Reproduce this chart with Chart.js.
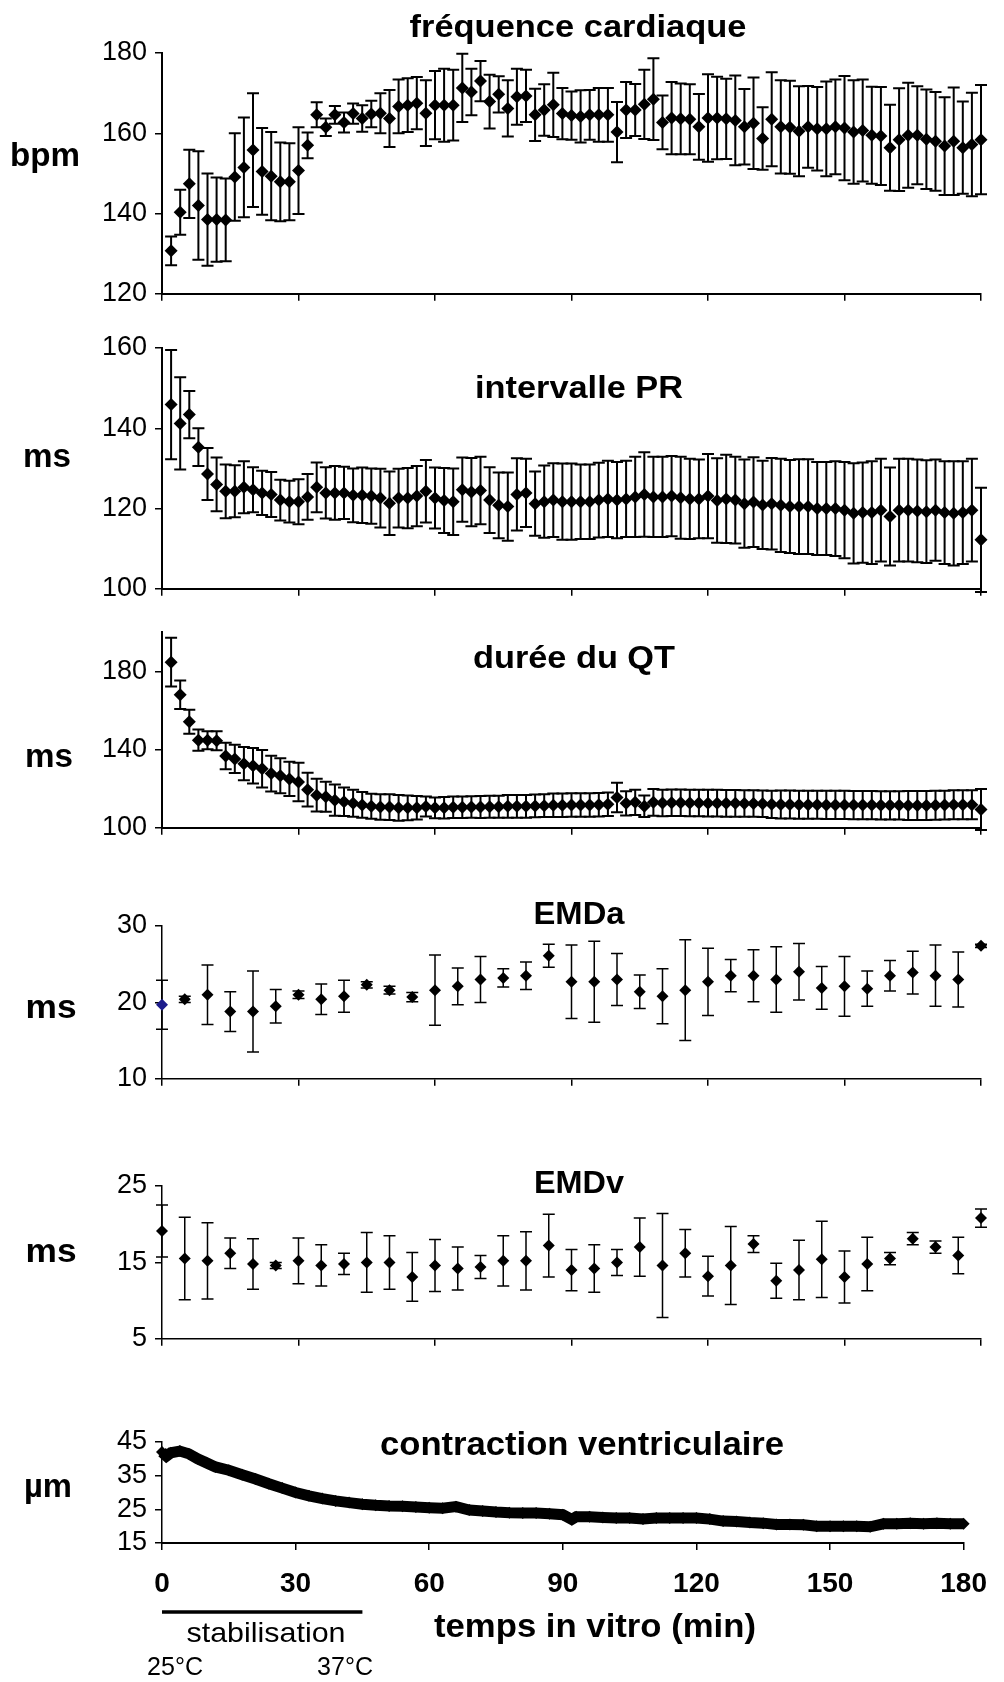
<!DOCTYPE html>
<html lang="fr">
<head>
<meta charset="utf-8">
<title>Paramètres cardiaques in vitro</title>
<script src="https://cdn.jsdelivr.net/npm/chart.js@4.4.1/dist/chart.umd.min.js"></script>
<style>
  html, body { margin: 0; padding: 0; background: #fff; }
  #page { position: relative; width: 1004px; height: 1682px; overflow: hidden; background: #fff; }
  #page canvas { position: absolute; left: 0; }
</style>
</head>
<body>
<div id="page">
  <canvas id="hrChart"></canvas>
  <canvas id="prChart"></canvas>
  <canvas id="qtChart"></canvas>
  <canvas id="emdaChart"></canvas>
  <canvas id="emdvChart"></canvas>
  <canvas id="contrChart"></canvas>
</div>
<script>
// temps (min) des mesures ECG toutes les 2 min
const timeEcg = [2, 4, 6, 8, 10, 12, 14, 16, 18, 20, 22, 24, 26, 28, 30, 32, 34, 36, 38, 40,
  42, 44, 46, 48, 50, 52, 54, 56, 58, 60, 62, 64, 66, 68, 70, 72, 74, 76, 78, 80,
  82, 84, 86, 88, 90, 92, 94, 96, 98, 100, 102, 104, 106, 108, 110, 112, 114, 116, 118, 120,
  122, 124, 126, 128, 130, 132, 134, 136, 138, 140, 142, 144, 146, 148, 150, 152, 154, 156, 158, 160,
  162, 164, 166, 168, 170, 172, 174, 176, 178, 180];

// fréquence cardiaque (bpm) : moyenne et écart
const hrMean = [130.7, 140.3, 147.4, 142.0, 138.5, 138.5, 138.4, 149.1, 151.5, 155.8,
  150.5, 149.3, 147.9, 147.9, 150.7, 157.0, 164.6, 161.5, 164.6, 162.7,
  164.9, 163.7, 164.8, 165.0, 163.7, 166.7, 167.0, 167.5, 165.0, 167.0,
  167.0, 167.0, 171.3, 170.3, 173.0, 167.9, 169.7, 166.2, 169.1, 169.3,
  164.6, 165.8, 167.1, 164.9, 164.4, 164.2, 164.6, 164.6, 164.6, 160.3,
  165.8, 165.8, 167.2, 168.5, 162.7, 163.8, 163.6, 163.5, 161.6, 163.8,
  163.8, 163.6, 163.2, 161.6, 162.5, 158.7, 163.5, 161.6, 161.5, 160.5,
  161.6, 161.1, 161.1, 161.6, 161.3, 160.3, 160.7, 159.5, 159.3, 156.4,
  158.4, 159.5, 159.5, 158.5, 158.0, 156.8, 158.0, 156.4, 157.2, 158.4];
const hrErr = [3.6, 5.6, 8.5, 13.5, 11.5, 10.5, 10.3, 10.9, 12.4, 14.2,
  10.8, 11, 9.8, 9.6, 10.8, 3.2, 3.1, 2.2, 2.2, 2.5,
  2.5, 3.3, 3.3, 5, 7.1, 6.7, 6.7, 6.5, 8.2, 8.5,
  9.1, 8.8, 8.5, 5.8, 5, 6.7, 4.5, 7, 7, 6.5,
  6.5, 6.4, 8, 6.4, 6, 6.5, 6.2, 6.7, 6.7, 7.5,
  7, 6.5, 8.6, 10.2, 6.7, 9, 8.8, 8.7, 8.2, 10.9,
  10.3, 10, 11.2, 9.4, 11.4, 7.8, 11.7, 11.6, 11.6, 11.2,
  10.2, 10.4, 11.8, 11.8, 13, 12.9, 12.7, 12.1, 12.2, 10.7,
  12.8, 13.1, 12.2, 12.4, 12.3, 12.2, 13.4, 11.5, 12.9, 13.6];

// intervalle PR (ms)
const prMean = [145.9, 141.2, 143.4, 135.3, 128.6, 126.0, 124.3, 124.3, 125.3, 124.7,
  123.9, 123.5, 122.1, 121.7, 121.7, 122.9, 125.3, 123.9, 123.9, 123.9,
  123.3, 123.3, 123.1, 122.6, 121.3, 122.6, 122.6, 123.1, 124.3, 122.6,
  122.0, 121.7, 124.7, 124.1, 124.5, 122.1, 120.8, 120.5, 123.5, 123.9,
  121.2, 121.7, 122.1, 121.7, 121.7, 121.7, 121.7, 122.1, 122.4, 122.1,
  122.4, 122.9, 123.5, 122.9, 122.9, 123.1, 122.7, 122.4, 122.4, 123.1,
  122.0, 122.4, 122.1, 121.2, 121.6, 120.9, 121.2, 120.8, 120.5, 120.5,
  120.5, 120.0, 120.0, 120.0, 119.6, 118.8, 119.0, 119.0, 119.6, 118.0,
  119.6, 119.6, 119.4, 119.2, 119.6, 119.0, 118.8, 119.0, 119.6, 112.2];
const prErr = [13.6, 11.5, 5.9, 4.7, 6.5, 6.7, 6.7, 6.5, 6.5, 5.6,
  5.5, 5.6, 5.1, 5.2, 5.6, 5.7, 6.2, 6.4, 6.7, 6.5,
  6.7, 6.9, 6.9, 7.3, 7.9, 7.3, 7.5, 7.5, 7.8, 7.6,
  8.1, 8.3, 8, 8.5, 8.4, 8.2, 8.2, 8.5, 9, 8.5,
  8, 9, 9.2, 9.5, 9.5, 9.3, 9.3, 9.3, 9.5, 9.5,
  9.5, 10, 10.5, 10, 10, 10, 10.2, 10, 9.8, 10.5,
  10.5, 11, 10.8, 11, 11.2, 11, 11.4, 11.6, 11.6, 11.8,
  11.8, 11.6, 11.6, 11.8, 12, 12.5, 12.5, 12.8, 12.8, 12.2,
  12.8, 12.8, 12.8, 12.8, 12.6, 12.8, 13, 12.8, 12.8, 13];

// durée du QT (ms)
const qtMean = [184.7, 168.0, 154.2, 144.8, 144.8, 144.5, 136.7, 135.2, 132.8, 131.7,
  130.2, 127.7, 126.6, 125.0, 123.4, 119.5, 116.7, 115.9, 114.1, 113.3,
  112.5, 111.7, 111.0, 110.6, 110.6, 110.2, 110.2, 110.2, 110.9, 110.2,
  110.3, 110.5, 110.5, 110.6, 110.6, 110.8, 110.8, 111.0, 111.0, 111.0,
  111.2, 111.3, 111.5, 111.5, 111.7, 111.7, 111.7, 111.8, 112.0, 115.5,
  112.5, 113.0, 111.0, 113.0, 112.7, 112.8, 112.8, 112.7, 112.7, 112.6,
  112.6, 112.5, 112.5, 112.4, 112.4, 112.3, 112.0, 111.9, 111.9, 111.8,
  111.8, 111.8, 111.7, 111.7, 111.7, 111.6, 111.6, 111.6, 111.5, 111.5,
  111.5, 111.4, 111.4, 111.4, 111.5, 111.6, 111.8, 111.8, 111.8, 109.4];
const qtErr = [12.4, 7.3, 6.1, 5.4, 4.6, 4.8, 6.8, 7.2, 8.5, 9.1,
  9.6, 9.1, 9, 8.8, 9.8, 8.6, 8.4, 7.7, 8, 7.3,
  6.9, 6.6, 6.4, 6.5, 6.6, 6.6, 6.3, 6, 5.1, 5.3,
  5.5, 5.5, 5.5, 5.5, 5.6, 5.6, 5.6, 5.8, 5.8, 5.8,
  5.8, 5.8, 6, 6, 6, 6, 6, 6, 6, 7.5,
  6.2, 6.5, 5.5, 6.8, 6.8, 6.8, 6.8, 6.8, 6.8, 6.8,
  6.8, 6.8, 6.8, 6.8, 6.8, 6.8, 7, 7.2, 7.2, 7.2,
  7.2, 7.2, 7.2, 7.2, 7.2, 7.2, 7.2, 7.2, 7.2, 7.2,
  7.2, 7.4, 7.4, 7.4, 7.4, 7.4, 7.4, 7.4, 7.4, 10.5];

// délais électromécaniques, toutes les 5 min
const timeEmd = [0, 5, 10, 15, 20, 25, 30, 35, 40, 45, 50, 55, 60, 65, 70, 75, 80, 85, 90,
  95, 100, 105, 110, 115, 120, 125, 130, 135, 140, 145, 150, 155, 160, 165, 170, 175, 180];
const emdaMean = [19.7, 20.4, 21.0, 18.8, 18.8, 19.5, 21.0, 20.4, 20.8, 22.3, 21.6, 20.7, 21.6,
  22.1, 23.0, 23.2, 23.5, 26.1, 22.7, 22.7, 23.0, 21.4, 20.8, 21.6, 22.7, 23.5, 23.5,
  23.0, 24.0, 21.9, 22.1, 21.8, 23.5, 23.9, 23.5, 23.0, 27.4];
const emdaErr = [3.2, 0.4, 3.9, 2.6, 5.3, 2.2, 0.5, 2.0, 2.1, 0.4, 0.5, 0.6, 4.6,
  2.4, 3.0, 1.2, 1.8, 1.5, 4.8, 5.3, 3.4, 2.2, 3.6, 6.6, 4.4, 2.1, 3.4,
  4.3, 3.7, 2.8, 3.9, 2.3, 2.0, 2.8, 4.0, 3.6, 0.2];
const emdvMean = [19.1, 15.5, 15.2, 16.2, 14.8, 14.6, 15.2, 14.6, 14.8, 15.0, 15.0, 13.1, 14.6,
  14.2, 14.4, 15.2, 15.2, 17.2, 14.0, 14.2, 15.0, 17.0, 14.6, 16.2, 13.2, 14.6, 17.4,
  12.6, 14.0, 15.4, 13.1, 14.8, 15.5, 18.1, 17.0, 15.9, 20.8];
const emdvErr = [3.4, 5.4, 5.0, 2.0, 3.3, 0.4, 3.0, 2.7, 1.4, 3.9, 3.5, 3.2, 3.4,
  2.8, 1.5, 3.3, 3.8, 4.1, 2.7, 3.1, 1.7, 3.8, 6.8, 3.1, 2.6, 5.1, 1.1,
  2.3, 3.9, 5.0, 3.4, 3.5, 0.8, 0.8, 0.8, 2.4, 1.2];

// contraction ventriculaire (µm)
const contrTime = [0, 1, 2, 4, 6, 8, 10, 12, 15, 18, 21, 24, 27, 30, 33, 36, 39, 42, 45, 48,
  51, 54, 57, 60, 63, 66, 69, 72, 75, 78, 81, 84, 87, 90, 92, 93, 96, 99, 102, 105,
  108, 111, 114, 117, 120, 123, 126, 129, 132, 135, 138, 141, 144, 147, 150, 153, 156, 159, 162, 165,
  168, 171, 174, 177, 180];
const contrVal = [42.0, 40.8, 41.8, 42.3, 41.5, 40.0, 38.8, 37.6, 36.6, 35.3, 34.0, 32.6, 31.3, 30.0, 29.0, 28.2, 27.5, 27.0, 26.5, 26.2,
  26.0, 25.9, 25.7, 25.5, 25.3, 25.8, 24.8, 24.5, 24.2, 24.0, 23.9, 23.9, 23.7, 23.4, 22.0, 22.8, 22.8, 22.6, 22.4, 22.4,
  22.1, 22.4, 22.4, 22.4, 22.4, 22.1, 21.5, 21.4, 21.1, 20.9, 20.5, 20.5, 20.4, 20.0, 20.0, 20.0, 20.0, 19.8, 20.7, 20.7,
  20.9, 20.7, 20.9, 20.7, 20.7];

// graduations
const xTicks = [0, 30, 60, 90, 120, 150, 180];
const hrTicks = [120, 140, 160, 180];
const prTicks = [100, 120, 140, 160];
const qtTicks = [100, 140, 180];
const emdaTicks = [10, 20, 30];
const emdvTicks = [5, 15, 25];
const contrTicks = [15, 25, 35, 45];
const stabRange = [0, 45]; // période de stabilisation (min)

const FONT = '"Liberation Sans", Arial, sans-serif';
Chart.defaults.color = '#000';
Chart.defaults.font.family = FONT;

function toPoints(times, values) {
  return times.map((t, i) => ({ x: t, y: values[i] }));
}

// barres d'erreur (moyenne +/- écart), dessinées avec les échelles du graphique
const errorBars = {
  id: 'errorBars',
  beforeDatasetsDraw(chart) {
    const ds = chart.data.datasets[0];
    if (!ds.errors) return;
    const { ctx, scales: { x, y } } = chart;
    ctx.save();
    ctx.strokeStyle = '#000';
    ctx.lineWidth = ds.errWidth;
    ds.data.forEach((p, i) => {
      const e = ds.errors[i];
      if (!e) return;
      const px = x.getPixelForValue(p.x);
      const top = y.getPixelForValue(p.y + e);
      const bot = y.getPixelForValue(p.y - e);
      const c = ds.capHalf;
      ctx.beginPath();
      ctx.moveTo(px, top); ctx.lineTo(px, bot);
      ctx.moveTo(px - c, top); ctx.lineTo(px + c, top);
      ctx.moveTo(px - c, bot); ctx.lineTo(px + c, bot);
      ctx.stroke();
    });
    ctx.restore();
  }
};

// textes libres (titres, unités), ajustés à la largeur voulue
function textPlugin(offsetTop, items, extra) {
  return {
    id: 'panelText',
    afterDraw(chart) {
      const ctx = chart.ctx;
      items.forEach(t => {
        ctx.save();
        ctx.font = t.font;
        const w = ctx.measureText(t.text).width;
        const sx = t.width ? t.width / w : 1;
        ctx.translate(t.x, t.y - offsetTop);
        ctx.scale(sx, 1);
        ctx.textAlign = 'center';
        ctx.textBaseline = 'alphabetic';
        ctx.fillStyle = '#000';
        ctx.fillText(t.text, 0, 0);
        ctx.restore();
      });
      if (extra) extra(chart, offsetTop);
    }
  };
}

function panel(id, geo, cfg) {
  const canvas = document.getElementById(id);
  canvas.width = 1004;
  canvas.height = geo.height;
  canvas.style.top = geo.top + 'px';
  canvas.style.width = '1004px';
  canvas.style.height = geo.height + 'px';

  const xTickOpts = cfg.xLabels
    ? { display: true, padding: 17, maxRotation: 0, autoSkip: false,
        font: { size: 28, weight: 'bold' } }
    : { display: false };

  return new Chart(canvas, {
    type: cfg.type || 'scatter',
    data: { datasets: [cfg.dataset] },
    options: {
      responsive: false,
      animation: false,
      events: [],
      layout: { padding: { top: geo.padTop, right: 23, bottom: 0, left: 0 } },
      plugins: { legend: { display: false }, tooltip: { enabled: false } },
      scales: {
        x: {
          type: 'linear',
          min: 0,
          max: 180,
          afterBuildTicks: s => { s.ticks = xTicks.map(v => ({ value: v })); },
          afterFit: s => { s.height = geo.xHeight; },
          border: { display: true, color: '#000', width: cfg.xAxisWidth },
          grid: { drawOnChartArea: false, drawTicks: true, tickLength: 7, color: '#000', lineWidth: 1.5 },
          ticks: xTickOpts
        },
        y: {
          min: cfg.min,
          max: cfg.max,
          afterBuildTicks: s => { s.ticks = cfg.ticks.map(v => ({ value: v })); },
          afterFit: s => { s.width = 162; },
          border: { display: true, color: '#000', width: cfg.yAxisWidth },
          grid: { drawOnChartArea: false, drawTicks: true, tickLength: 7, color: '#000', lineWidth: 1.5 },
          ticks: { padding: 8, autoSkip: false, font: { size: 27 } }
        }
      }
    },
    plugins: [errorBars, textPlugin(geo.top, cfg.texts, cfg.extra)]
  });
}

function markerSet(times, mean, err, opts) {
  return {
    data: toPoints(times, mean),
    errors: err,
    errWidth: opts.errWidth,
    capHalf: opts.capHalf,
    pointStyle: 'rectRot',
    pointRadius: opts.radius,
    pointBackgroundColor: opts.colors || '#000',
    pointBorderColor: opts.colors || '#000',
    pointBorderWidth: 0,
    showLine: false,
    clip: false
  };
}

const bold = size => 'bold ' + size + 'px ' + FONT;
const plain = size => size + 'px ' + FONT;

panel('hrChart', { top: 0, height: 318, padTop: 53, xHeight: 10 }, {
  dataset: markerSet(timeEcg, hrMean, hrErr, { errWidth: 2, capHalf: 6, radius: 6.5 }),
  min: 120, max: 180, ticks: hrTicks, xAxisWidth: 2, yAxisWidth: 2,
  texts: [
    { text: 'fréquence cardiaque', x: 578, y: 37, font: bold(32), width: 337 },
    { text: 'bpm', x: 45, y: 166, font: bold(34), width: 70 }
  ]
});

panel('prChart', { top: 318, height: 295, padTop: 30, xHeight: 10 }, {
  dataset: markerSet(timeEcg, prMean, prErr, { errWidth: 2, capHalf: 6, radius: 6.5 }),
  min: 100, max: 160, ticks: prTicks, xAxisWidth: 2, yAxisWidth: 2,
  texts: [
    { text: 'intervalle PR', x: 579, y: 398, font: bold(32), width: 208 },
    { text: 'ms', x: 47, y: 467, font: bold(34), width: 48 }
  ]
});

panel('qtChart', { top: 608, height: 244, padTop: 20, xHeight: 10 }, {
  dataset: markerSet(timeEcg, qtMean, qtErr, { errWidth: 2, capHalf: 6, radius: 6.5 }),
  min: 100, max: 200, ticks: qtTicks, xAxisWidth: 2, yAxisWidth: 2,
  texts: [
    { text: 'durée du QT', x: 574, y: 668, font: bold(32), width: 202 },
    { text: 'ms', x: 49, y: 767, font: bold(34), width: 48 }
  ]
});

const emdaColors = emdaMean.map((v, i) => (i === 0 ? '#1c1c8c' : '#000'));
panel('emdaChart', { top: 846, height: 257, padTop: 80, xHeight: 10 }, {
  dataset: markerSet(timeEmd, emdaMean, emdaErr, { errWidth: 1.5, capHalf: 6, radius: 6, colors: emdaColors }),
  min: 10, max: 30, ticks: emdaTicks, xAxisWidth: 1.5, yAxisWidth: 1.5,
  texts: [
    { text: 'EMDa', x: 579, y: 924, font: bold(32), width: 91 },
    { text: 'ms', x: 51, y: 1018, font: bold(34), width: 51 }
  ]
});

panel('emdvChart', { top: 1106, height: 257, padTop: 80, xHeight: 10 }, {
  dataset: markerSet(timeEmd, emdvMean, emdvErr, { errWidth: 1.5, capHalf: 6, radius: 6 }),
  min: 5, max: 25, ticks: emdvTicks, xAxisWidth: 1.5, yAxisWidth: 1.5,
  texts: [
    { text: 'EMDv', x: 579, y: 1193, font: bold(32), width: 90 },
    { text: 'ms', x: 51, y: 1262, font: bold(34), width: 51 }
  ]
});

panel('contrChart', { top: 1380, height: 302, padTop: 62, xHeight: 139 }, {
  type: 'line',
  dataset: {
    data: toPoints(contrTime, contrVal),
    borderColor: '#000',
    borderWidth: 11,
    tension: 0,
    pointStyle: 'rectRot',
    pointRadius: 6,
    pointBackgroundColor: '#000',
    pointBorderWidth: 0,
    clip: false
  },
  min: 15, max: 45, ticks: contrTicks, xLabels: true, xAxisWidth: 2, yAxisWidth: 1.5,
  texts: [
    { text: 'contraction ventriculaire', x: 582, y: 1455, font: bold(34), width: 404 },
    { text: 'µm', x: 48, y: 1497, font: bold(34), width: 48 },
    { text: 'stabilisation', x: 266, y: 1642, font: plain(28), width: 159 },
    { text: 'temps in vitro (min)', x: 595, y: 1637, font: bold(34), width: 322 },
    { text: '25°C', x: 175, y: 1675, font: plain(26), width: 56 },
    { text: '37°C', x: 345, y: 1675, font: plain(26), width: 56 }
  ],
  // barre de la période de stabilisation sous l'axe des temps
  extra: (chart, offsetTop) => {
    const { ctx, scales: { x } } = chart;
    ctx.save();
    ctx.strokeStyle = '#000';
    ctx.lineWidth = 3.5;
    ctx.beginPath();
    ctx.moveTo(x.getPixelForValue(stabRange[0]), 1612 - offsetTop);
    ctx.lineTo(x.getPixelForValue(stabRange[1]), 1612 - offsetTop);
    ctx.stroke();
    ctx.restore();
  }
});
</script>
</body>
</html>
